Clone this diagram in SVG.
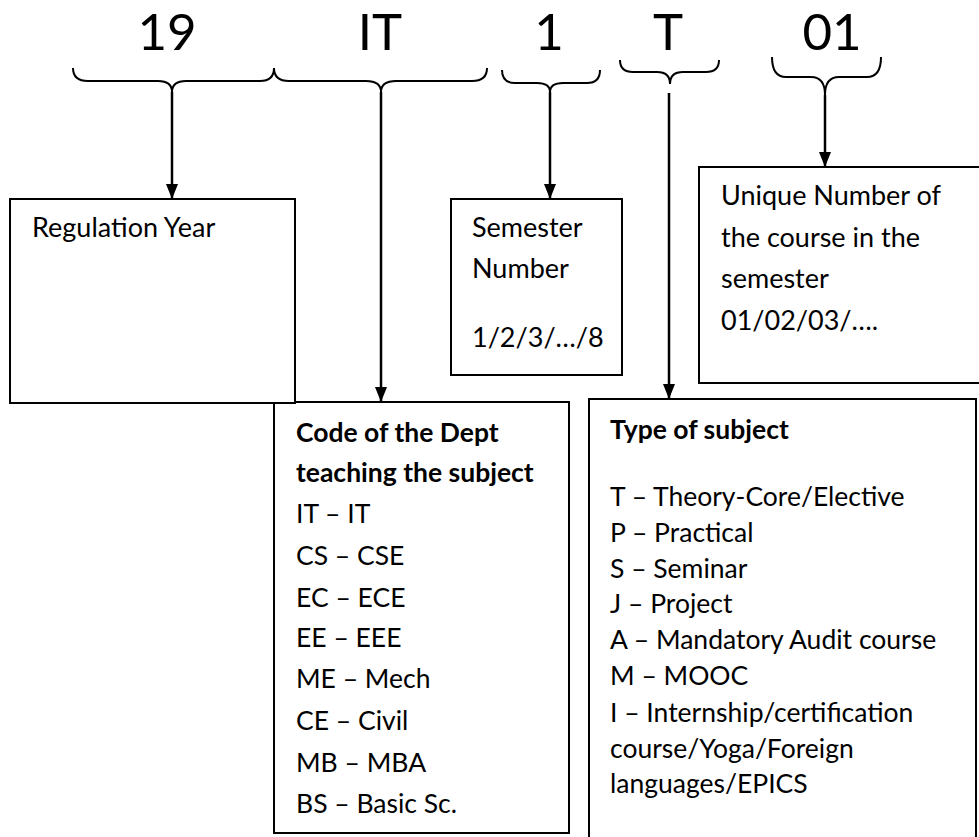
<svg xmlns="http://www.w3.org/2000/svg" width="979" height="837" viewBox="0 0 979 837">
<style>
  .code { font-family: Lato, "Liberation Sans", sans-serif; font-size: 51px; fill: #000; text-anchor: middle; }
  .t { font-family: Lato, "Liberation Sans", sans-serif; font-size: 26.5px; fill: #000; }
  .big { font-size: 27px; }
  .b { font-weight: bold; }
  .box { fill: #fff; stroke: #000; stroke-width: 2; }
  .brace { fill: none; stroke: #000; stroke-width: 2; }
  .arrow { fill: none; stroke: #000; stroke-width: 2.5; marker-end: url(#ah); }
</style>
<defs>
  <marker id="ah" markerUnits="userSpaceOnUse" markerWidth="16" markerHeight="12" refX="15" refY="6" orient="auto">
    <path d="M0,0 L15,6 L0,12 Z" fill="#000"/>
  </marker>
</defs>
<rect width="979" height="837" fill="#fff"/>

<g id="codes">
  <text class="code" x="167" y="50">19</text>
  <text class="code" x="380" y="50">IT</text>
  <text class="code" x="549" y="50">1</text>
  <text class="code" x="668" y="50">T</text>
  <text class="code" x="832" y="50">01</text>
</g>

<g id="braces">
  <path class="brace" d="M73,68 Q73,81 88,81 L158,81 Q172,81 172,92 Q172,81 186,81 L260,81 Q274,81 274,68"/>
  <path class="brace" d="M274,68 Q274,81 289,81 L366,81 Q381,81 381,92 Q381,81 396,81 L472,81 Q487,81 487,68"/>
  <path class="brace" d="M502,70 Q502,83 515,83 L537,83 Q550,83 550,92 Q550,83 563,83 L587,83 Q600,83 600,70"/>
  <path class="brace" d="M620,60 Q620,72 633,72 L657,72 Q670,72 670,84 Q670,72 683,72 L706,72 Q719,72 719,60"/>
  <path class="brace" d="M772,57 Q772,77 786,77 L811,77 Q825,77 825,95 Q825,77 839,77 L867,77 Q881,77 881,57"/>
</g>

<g id="connectors">
  <line class="arrow" x1="172" y1="92" x2="172" y2="199"/>
  <line class="arrow" x1="381" y1="92" x2="381" y2="402"/>
  <line class="arrow" x1="550" y1="92" x2="550" y2="199"/>
  <line class="arrow" x1="669" y1="93" x2="669" y2="399"/>
  <line class="arrow" x1="825" y1="95" x2="825" y2="167"/>
</g>

<g id="dept">
  <rect class="box" x="274" y="402" width="295" height="431"/>
  <text class="t b" x="296" y="442">Code of the Dept</text>
  <text class="t b" x="296" y="482">teaching the subject</text>
  <text class="t" x="296" y="523">IT – IT</text>
  <text class="t" x="296" y="565">CS – CSE</text>
  <text class="t" x="296" y="607">EC – ECE</text>
  <text class="t" x="296" y="647">EE – EEE</text>
  <text class="t" x="296" y="688">ME – Mech</text>
  <text class="t" x="296" y="730">CE – Civil</text>
  <text class="t" x="296" y="772">MB – MBA</text>
  <text class="t" x="296" y="813">BS – Basic Sc.</text>
</g>

<g id="regulation">
  <rect class="box" x="10" y="199" width="285" height="204" stroke-width="3"/>
  <text class="t big" x="32" y="237">Regulation Year</text>
</g>

<g id="semester">
  <rect class="box" x="451" y="199" width="171" height="176"/>
  <text class="t big" x="472" y="237">Semester</text>
  <text class="t big" x="472" y="278">Number</text>
  <text class="t big" x="472" y="347">1/2/3/…/8</text>
</g>

<g id="unique">
  <rect class="box" x="699" y="167" width="290" height="216"/>
  <text class="t big" x="721" y="205">Unique Number of</text>
  <text class="t big" x="721" y="247">the course in the</text>
  <text class="t big" x="721" y="288">semester</text>
  <text class="t big" x="721" y="330">01/02/03/….</text>
</g>

<g id="type">
  <rect class="box" x="589" y="399" width="387" height="445"/>
  <text class="t b" x="610" y="439">Type of subject</text>
  <text class="t" x="610" y="506">T – Theory-Core/Elective</text>
  <text class="t" x="610" y="542">P – Practical</text>
  <text class="t" x="610" y="578">S – Seminar</text>
  <text class="t" x="610" y="613">J – Project</text>
  <text class="t" x="610" y="649">A – Mandatory Audit course</text>
  <text class="t" x="610" y="685">M – MOOC</text>
  <text class="t" x="610" y="722">I – Internship/certification</text>
  <text class="t" x="610" y="758">course/Yoga/Foreign</text>
  <text class="t" x="610" y="793">languages/EPICS</text>
</g>
</svg>
